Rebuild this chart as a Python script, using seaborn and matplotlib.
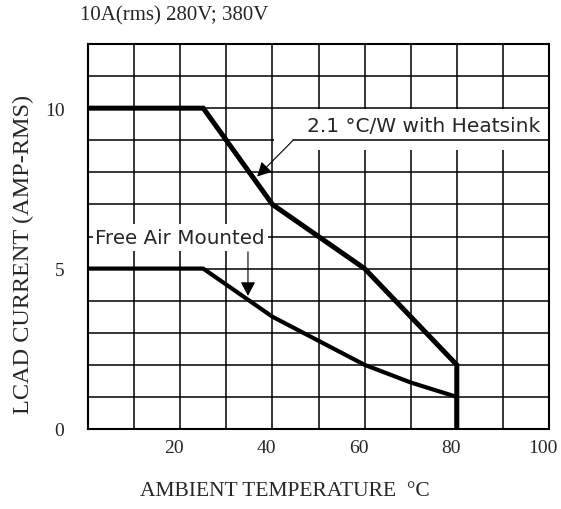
import matplotlib
matplotlib.use("Agg")
import matplotlib.pyplot as plt
import matplotlib.transforms as mtransforms
from matplotlib.patches import Rectangle
import seaborn as sns
import pandas as pd

# ---- data ----
temp_heatsink = [0, 25, 40, 50, 60, 80, 80]
current_heatsink = [10, 10, 7, 6, 5, 2, 0]
temp_free_air = [0, 25, 40, 50, 60, 70, 80, 80]
current_free_air = [5, 5, 3.5, 2.75, 2.0, 1.45, 1.0, 0]

x_ticks = [20, 40, 60, 80, 100]
x_tick_labels = ["20", "40", "60", "80", "100"]
y_ticks = [0, 5, 10]
y_tick_labels = ["0", "5", "10"]

title_text = "10A(rms) 280V; 380V"
x_label = "AMBIENT TEMPERATURE  \u00b0C"
y_label = "LCAD CURRENT (AMP-RMS)"
label_heatsink = "2.1 \u00b0C/W with Heatsink"
label_free_air = "Free Air Mounted"

df_hs = pd.DataFrame({"temp": temp_heatsink, "current": current_heatsink})
df_fa = pd.DataFrame({"temp": temp_free_air, "current": current_free_air})

sns.set_style("white")
plt.rcParams["font.family"] = ["DejaVu Sans"]

fig = plt.figure(figsize=(5.61, 5.10), dpi=100)
ax = fig.add_axes([88 / 561, 80 / 510, 461 / 561, 385 / 510])

sns.lineplot(data=df_hs, x="temp", y="current", sort=False, estimator=None,
             color="black", linewidth=3.6, ax=ax, zorder=3,
             solid_joinstyle="miter", solid_capstyle="butt")
sns.lineplot(data=df_fa, x="temp", y="current", sort=False, estimator=None,
             color="black", linewidth=3.0, ax=ax, zorder=3,
             solid_joinstyle="miter", solid_capstyle="butt")

ax.set_xlim(0, 100)
ax.set_ylim(0, 12)
ax.set_xticks(x_ticks)
ax.set_xticklabels(x_tick_labels)
ax.set_xticks(range(0, 101, 10), minor=True)
ax.set_yticks(y_ticks)
ax.set_yticklabels(y_tick_labels)
ax.set_yticks(range(0, 13), minor=True)
ax.set_axisbelow(True)
ax.grid(True, which="both", color="black", linewidth=1.1)
ax.tick_params(axis="both", which="both", length=0)
ax.tick_params(axis="x", pad=7)
ax.tick_params(axis="y", pad=17)
for lab in ax.get_xticklabels() + ax.get_yticklabels():
    lab.set_fontfamily("Liberation Serif")
    lab.set_fontsize(14)
off = mtransforms.ScaledTranslation(-0.06, 0, fig.dpi_scale_trans)
for lab in ax.get_xticklabels():
    lab.set_transform(lab.get_transform() + off)

for s in ax.spines.values():
    s.set_color("black")
    s.set_linewidth(1.5)

ax.set_xlabel(x_label, fontfamily="Liberation Serif", fontsize=15.5)
ax.xaxis.set_label_coords((285 - 88) / 461, -(492 - 430) / 385)
ax.xaxis.label.set_va("center")
ax.set_ylabel(y_label, fontfamily="Liberation Serif", fontsize=17.5)
ax.yaxis.set_label_coords((23 - 88) / 461, (430 - 254) / 385)
ax.yaxis.label.set_va("center")

fig.text(80 / 561, 1 - 16 / 510, title_text, fontfamily="Liberation Serif",
         fontsize=15, ha="left", va="center")

# white masks behind callout texts
ax.add_patch(Rectangle((40.3, 8.7), 59.5, 1.26, facecolor="white",
                       edgecolor="none", zorder=2))
ax.add_patch(Rectangle((1.1, 5.56), 37.9, 0.84, facecolor="white",
                       edgecolor="none", zorder=2))

ax.text(72.7, 9.45, label_heatsink, fontsize=14.5, ha="center", va="center",
        zorder=4)
ax.text(20.0, 5.97, label_free_air, fontsize=14.3, ha="center", va="center",
        zorder=4)

ax.plot([44.5, 100], [9, 9], color="black", linewidth=1.1, zorder=2.2)
arrow_style = "-|>,head_length=0.85,head_width=0.45"
ax.annotate("", xy=(36.7, 7.87), xytext=(44.5, 9.0),
            arrowprops=dict(arrowstyle=arrow_style, color="black", lw=0.8,
                            shrinkA=0, shrinkB=0, mutation_scale=10),
            zorder=4)
ax.annotate("", xy=(34.7, 4.15), xytext=(34.7, 5.52),
            arrowprops=dict(arrowstyle=arrow_style, color="black", lw=0.8,
                            shrinkA=0, shrinkB=0, mutation_scale=10),
            zorder=4)

fig.savefig("out.png", dpi=100)
